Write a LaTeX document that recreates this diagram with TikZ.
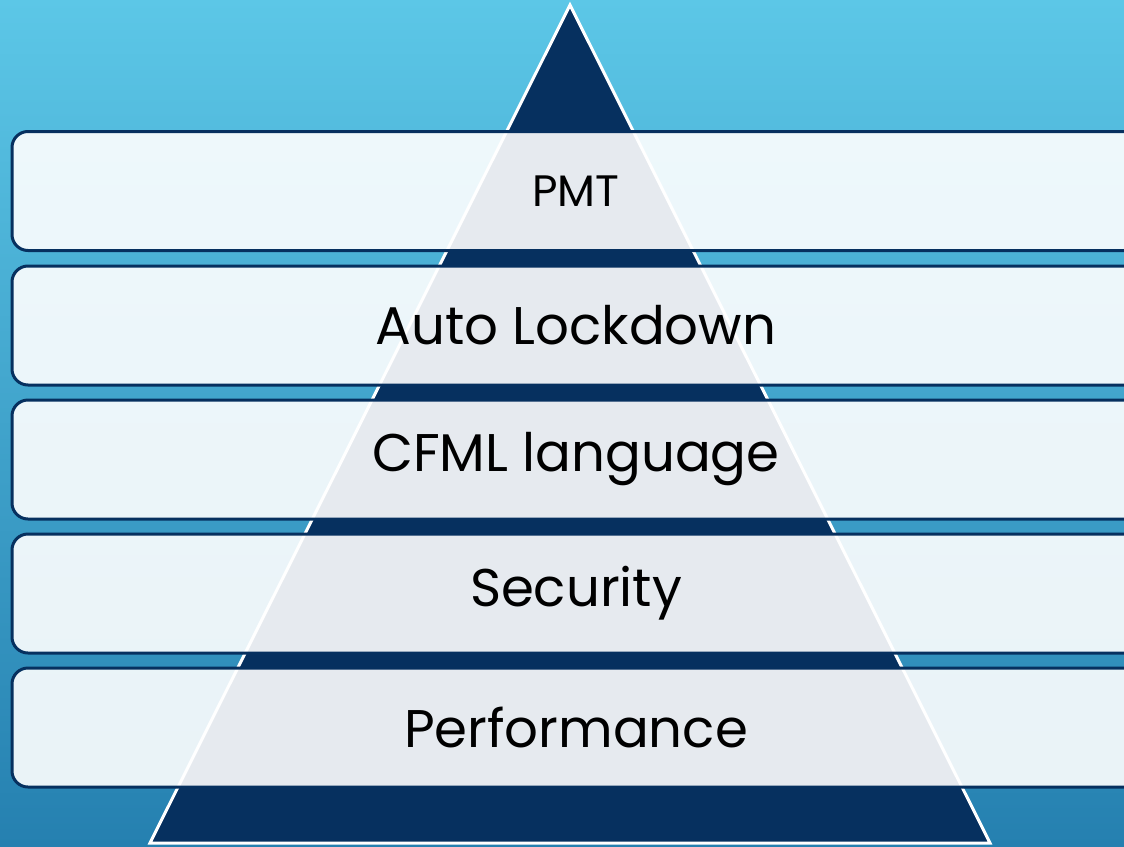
\documentclass[tikz,border=0pt]{standalone}
\usepackage{fontspec}
\setmainfont{Poppins}
\definecolor{navy}{HTML}{06305F}
\definecolor{bgtop}{HTML}{5CC7E7}
\definecolor{bgbot}{HTML}{2580B0}
\begin{document}
\begin{tikzpicture}[x=1pt,y=-1pt,
  rowbox/.style={draw=navy, line width=3pt, rounded corners=16pt, fill=white,
    fill opacity=0.9, text opacity=1, minimum width=1128pt, minimum height=119pt,
    inner sep=0pt, font=\fontsize{53}{60}\selectfont, text=black},
  tri/.style={fill=navy, draw=white, line width=3pt, line join=miter}]
\useasboundingbox (0,0) rectangle (1124,846);
\clip (0,0) rectangle (1124,846);
\shade[top color=bgtop, bottom color=bgbot] (0,0) rectangle (1124,846);
\coordinate (apex) at (570,5);
\coordinate (bl) at (150,843);
\coordinate (br) at (990,843);
\draw[tri] (apex) -- (br) -- (bl) -- cycle;
\node[rowbox, font=\fontsize{44}{50}\selectfont] (r1) at (576,191) {PMT};
\node[rowbox] (r2) at (576,325.5) {Auto Lockdown};
\node[rowbox] (r3) at (576,459.5) {CFML language};
\node[rowbox] (r4) at (576,593.5) {Security};
\node[rowbox] (r5) at (576,727.5) {Performance};
\end{tikzpicture}
\end{document}
